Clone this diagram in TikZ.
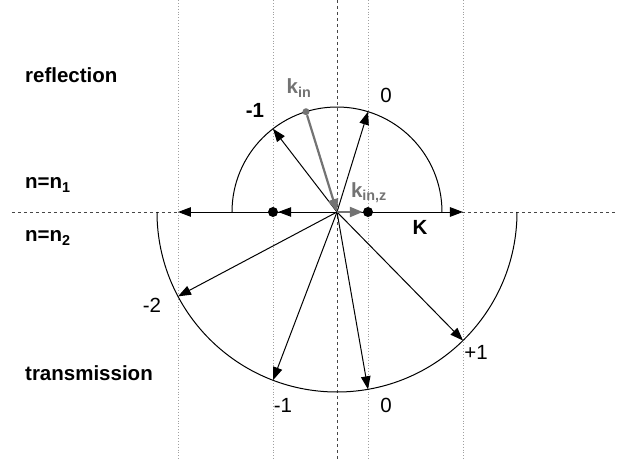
\documentclass[tikz,border=0pt]{standalone}
\usepackage{fontspec}
\setmainfont{Liberation Sans}
\usetikzlibrary{arrows.meta}
\definecolor{kgray}{RGB}{115,115,115}
\definecolor{lgray}{RGB}{160,160,160}
\definecolor{dgray}{RGB}{70,70,70}
\begin{document}
\begin{tikzpicture}[x=1pt,y=1pt,
  every node/.style={font=\fontsize{20.5}{24}\selectfont, inner sep=0pt},
  lbl/.style={font=\fontsize{20.5}{24}\selectfont\bfseries},
  gridline/.style={lgray, dotted, line width=0.9pt},
  vec/.style={line width=1pt, -{Triangle[length=13pt,width=9.5pt]}},
  gvec/.style={draw=kgray, line width=2.2pt, -{Triangle[length=13pt,width=10pt]}},
  dotmark/.style={circle, fill=black, minimum size=10pt, inner sep=0pt},
]
\useasboundingbox (-337,-249) rectangle (290,212);
% origin and points
\coordinate (O) at (0,0);
% grid lines
\foreach \xx/\nm in {-159/gA,-64/gB,31/gC,126/gD}{
  \coordinate (\nm t) at (\xx,212);
  \coordinate (\nm b) at (\xx,-249);
  \draw[gridline] (\nm t) -- (\nm b);
}
\coordinate (ct) at (0,212);
\coordinate (cb) at (0,-249);
\draw[dgray, dashed, line width=0.9pt] (ct) -- (cb);
\coordinate (hl) at (-325,0);
\coordinate (hr) at (278,0);
\draw[dgray, dashed, line width=0.9pt] (hl) -- (hr);
% circles
\draw[line width=1pt] (105,0) arc[start angle=0, end angle=180, radius=105];
\draw[line width=1pt] (-180,0) arc[start angle=180, end angle=360, radius=180];
% points on circles
\coordinate (kin) at (-31,100.3);
\coordinate (r0) at (31,100.3);
\coordinate (rm1) at (-64,83.2);
\coordinate (tm2) at (-159,-84.4);
\coordinate (tm1) at (-64,-168.2);
\coordinate (t0) at (31,-177.3);
\coordinate (tp1) at (126,-128.5);
\coordinate (hm2) at (-159,0);
\coordinate (hp1) at (126,0);
% horizontal arrows
\draw[vec] (O) -- (hm2);
\draw[vec] (O) -- (hp1);
\node[dotmark] (dB) at (-64,0) {};
\node[dotmark] (dC) at (31,0) {};
\draw[vec] (O) -- (dB);
% diffracted orders
\draw[vec] (O) -- (r0);
\draw[vec] (O) -- (rm1);
\draw[vec] (O) -- (tm2);
\draw[vec] (O) -- (tm1);
\draw[vec] (O) -- (t0);
\draw[vec] (O) -- (tp1);
% incident
\node[circle, fill=kgray, minimum size=7pt] (kdot) at (kin) {};
\draw[gvec] (kdot) -- (O);
\draw[gvec] (O) -- (dC);
% labels
\node[lbl, anchor=west] (tref) at (-312,137) {reflection};
\node[lbl, anchor=west] (tn1) at (-312,27) {n=n\textsubscript{1}};
\node[lbl, anchor=west] (tn2) at (-312,-26) {n=n\textsubscript{2}};
\node[lbl, anchor=west] (ttr) at (-312,-161) {transmission};
\node[lbl] (lrm1) at (-82,102) {-1};
\node (lr0) at (49,117) {0};
\node[lbl, kgray] (lkin) at (-38,124) {k\textsubscript{in}};
\node[lbl, kgray] (lkinz) at (32,19) {k\textsubscript{in,z}};
\node[lbl] (lK) at (83,-15) {K};
\node (ltm2) at (-185,-93) {-2};
\node (ltp1) at (139,-140) {+1};
\node (ltm1) at (-54,-193) {-1};
\node (lt0) at (49,-193) {0};
\end{tikzpicture}
\end{document}
